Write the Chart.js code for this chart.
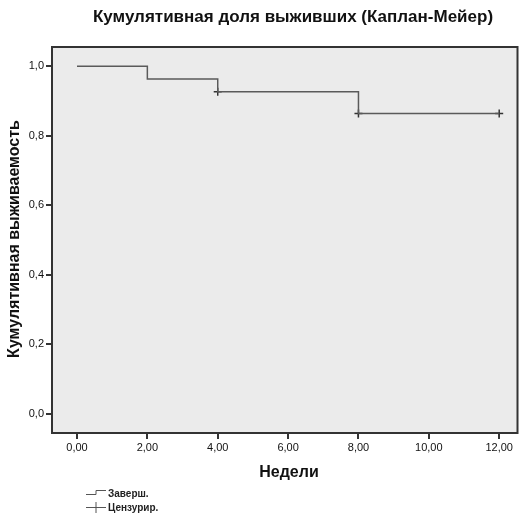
<!DOCTYPE html>
<html>
<head>
<meta charset="utf-8">
<script src="https://cdn.jsdelivr.net/npm/chart.js@4/dist/chart.umd.min.js"></script>
<style>
  html, body { margin: 0; padding: 0; background: #fff; }
  #wrap { width: 523px; height: 519px; }
</style>
</head>
<body>
<div id="wrap"><canvas id="kmChart" width="523" height="519"></canvas></div>
<script>
// Kaplan-Meier estimate: event times (weeks) and survival after each step
const weeks = [0, 2, 4, 8, 12];
const survival = [1.0, 0.963, 0.926, 0.864, 0.864];
// censored observations
const censoredWeeks = [4, 8, 12];
const censoredSurvival = [0.926, 0.864, 0.864];

const xTicks = [0, 2, 4, 6, 8, 10, 12];
const yTicks = [0, 0.2, 0.4, 0.6, 0.8, 1.0];

const chartTitle = 'Кумулятивная доля выживших (Каплан-Мейер)';
const xTitle = 'Недели';
const yTitle = 'Кумулятивная выживаемость';
const legendItems = ['Заверш.', 'Цензурир.'];

const lineColor = '#5a5a5a';
const axisColor = '#333';
const fontFamily = '"Liberation Sans", Arial, sans-serif';

const comma = (v, d) => v.toFixed(d).replace('.', ',');

// grey plot area, frame, titles and legend
const decor = {
    id: 'decor',
    beforeDraw(chart) {
        const { ctx, chartArea: a } = chart;
        ctx.save();
        ctx.fillStyle = '#ebebeb';
        ctx.fillRect(a.left, a.top, a.right - a.left, a.bottom - a.top);
        ctx.restore();
    },
    afterDraw(chart) {
        const { ctx, chartArea: a } = chart;
        ctx.save();
        ctx.strokeStyle = axisColor;
        ctx.lineWidth = 2;
        ctx.strokeRect(a.left, a.top, a.right - a.left, a.bottom - a.top);

        ctx.fillStyle = '#111';
        ctx.textAlign = 'center';
        ctx.textBaseline = 'middle';
        ctx.font = 'bold 17px ' + fontFamily;
        ctx.fillText(chartTitle, 293, 17);

        ctx.font = 'bold 16px ' + fontFamily;
        ctx.fillText(xTitle, 289, 473);

        ctx.save();
        ctx.translate(15, 239);
        ctx.rotate(-Math.PI / 2);
        ctx.font = 'bold 16px ' + fontFamily;
        ctx.fillText(yTitle, 0, 0);
        ctx.restore();

        // legend: step glyph and cross glyph
        ctx.strokeStyle = '#555';
        ctx.lineWidth = 1;
        ctx.beginPath();
        ctx.moveTo(86, 494.5); ctx.lineTo(96, 494.5);
        ctx.lineTo(96, 490.5); ctx.lineTo(106, 490.5);
        ctx.stroke();
        ctx.beginPath();
        ctx.moveTo(86, 507.5); ctx.lineTo(106, 507.5);
        ctx.moveTo(96, 502); ctx.lineTo(96, 513);
        ctx.stroke();

        ctx.fillStyle = '#222';
        ctx.textAlign = 'left';
        ctx.font = 'bold 10px ' + fontFamily;
        ctx.fillText(legendItems[0], 108, 494);
        ctx.fillText(legendItems[1], 108, 508);
        ctx.restore();
    }
};

new Chart(document.getElementById('kmChart'), {
    type: 'scatter',
    data: {
        datasets: [{
            type: 'line',
            data: weeks.map((w, i) => ({ x: w, y: survival[i] })),
            stepped: 'before',
            borderColor: lineColor,
            borderWidth: 1.5,
            pointRadius: 0,
            fill: false
        }, {
            type: 'scatter',
            data: censoredWeeks.map((w, i) => ({ x: w, y: censoredSurvival[i] })),
            pointStyle: 'cross',
            pointRadius: 4,
            borderColor: '#333',
            borderWidth: 1.5
        }]
    },
    options: {
        responsive: false,
        animation: false,
        layout: { padding: { top: 47, right: 4, left: 0, bottom: 0 } },
        plugins: { legend: { display: false }, title: { display: false }, tooltip: { enabled: false } },
        scales: {
            x: {
                type: 'linear',
                min: -0.71,
                max: 12.52,
                afterBuildTicks: s => { s.ticks = xTicks.map(v => ({ value: v })); },
                afterFit: s => { s.height = 86; },
                grid: { drawOnChartArea: false, drawTicks: true, tickLength: 6, color: axisColor, lineWidth: 2 },
                border: { display: false },
                ticks: {
                    color: '#111',
                    padding: 2,
                    maxRotation: 0,
                    font: { family: fontFamily, size: 11 },
                    callback: v => comma(v, 2)
                }
            },
            y: {
                min: -0.055,
                max: 1.055,
                afterBuildTicks: s => { s.ticks = yTicks.map(v => ({ value: v })); },
                afterFit: s => { s.width = 52; },
                grid: { drawOnChartArea: false, drawTicks: true, tickLength: 6, color: axisColor, lineWidth: 2 },
                border: { display: false },
                ticks: {
                    color: '#111',
                    padding: 2,
                    font: { family: fontFamily, size: 11 },
                    callback: v => comma(v, 1)
                }
            }
        }
    },
    plugins: [decor]
});
</script>
</body>
</html>
